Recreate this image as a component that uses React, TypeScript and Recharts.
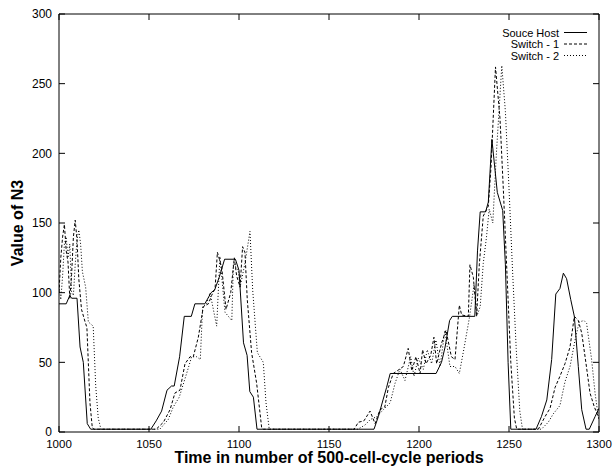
import { LineChart, Line, XAxis, YAxis } from "recharts";

// time (500-cell-cycle periods) and N3 values
const SOURCE_T = [
  1000, 1004, 1006, 1007, 1010, 1011.7, 1013.5, 1015.7, 1017.6, 1051, 1054, 1057, 1060, 1062.5,
  1064, 1067, 1069.6, 1073.5, 1075.5, 1081, 1084.5, 1086.5, 1089, 1092, 1098, 1100, 1102.5, 1104.5,
  1106, 1108, 1110, 1175, 1177.4, 1180, 1182, 1184, 1209.5, 1212.5, 1214.5, 1217, 1218.5, 1231,
  1232.5, 1234, 1237, 1238.5, 1240.5, 1243.5, 1246.5, 1248, 1249.5, 1251, 1265, 1268, 1271, 1273.7,
  1276, 1278.3, 1280.2, 1282, 1284.3, 1286.3, 1288.5, 1290.4, 1292.8, 1294.6, 1297.8, 1300,
];
const SOURCE_V = [
  92, 92, 98, 96, 96, 61, 50, 6, 2, 2, 8, 15, 30, 33,
  33, 54, 83, 83, 92, 92, 100, 102, 111, 124, 124, 116, 64, 55,
  29, 25, 2, 2, 11, 23, 32, 42, 42, 50, 61, 80, 83, 83,
  130, 158, 158, 165, 210, 172, 159, 120, 50, 2, 2, 11, 23, 52,
  99, 103, 114, 110, 95, 83, 47, 16, 2, 2, 11, 17,
];

const SWITCH1_T = [
  1000, 1001, 1002, 1003, 1004, 1005, 1006, 1007, 1008, 1009, 1010, 1011, 1012.5, 1014.5, 1015.5,
  1017.2, 1018.5, 1019.5, 1054, 1058, 1061.7, 1064.4, 1067.2, 1070, 1072.8, 1074.6, 1077.4, 1080.2,
  1083, 1084.8, 1086.7, 1088, 1090.4, 1092.8, 1095.4, 1097.4, 1098.7, 1100.6, 1102, 1103.3, 1104.6,
  1107, 1109.8, 1112.6, 1113.5, 1164, 1166.3, 1169.4, 1172.8, 1175.6, 1178.3, 1181, 1183, 1185.7,
  1188, 1191.3, 1194, 1196, 1198.3, 1200.6, 1202, 1203.9, 1206.5, 1208.3, 1209.8, 1212.6, 1215,
  1218, 1220, 1222.4, 1223.7, 1227.4, 1228.3, 1230.2, 1232, 1233.5, 1235.7, 1238.5, 1240, 1242.5,
  1245, 1247, 1249, 1251, 1253, 1254.3, 1266.3, 1270, 1272.8, 1275.6, 1278.3, 1281.1, 1283.9,
  1286.3, 1288.5, 1290.4, 1292.8, 1295, 1297.4, 1299.6, 1300,
];
const SWITCH1_V = [
  100, 125, 140, 149, 130, 122, 96, 113, 140, 152, 138, 110, 88, 79, 75,
  21, 3, 2, 2, 7, 16, 28, 30, 49, 54, 54, 68, 90,
  92, 98, 103, 129, 118, 88, 100, 125, 112, 104, 133, 129, 95,
  57, 35, 3, 2, 2, 7, 8, 15, 6, 16, 18, 32, 42,
  44, 47, 60, 44, 54, 42, 59, 49, 55, 68, 49, 64, 73,
  54, 52, 91, 84, 83, 120, 111, 83, 120, 155, 162, 190, 262,
  225, 170, 110, 50, 10, 2, 2, 11, 17, 32, 40, 49, 61,
  83, 80, 71, 49, 28, 18, 11, 10,
];

const SWITCH2_T = [
  1000, 1001, 1002, 1003, 1004, 1005, 1006, 1007, 1008, 1009, 1010, 1011, 1012, 1013, 1014.8,
  1016.3, 1019, 1020.4, 1021.8, 1023.3, 1056, 1060.7, 1063.5, 1066.8, 1070.9, 1073.7, 1076.5,
  1078.5, 1079.8, 1082, 1083.9, 1087.6, 1089.4, 1092.2, 1096, 1096.9, 1099.6, 1100.6, 1103.3,
  1106.1, 1107.6, 1110.2, 1113.5, 1115, 1116.8, 1166, 1170, 1173, 1176.5, 1180.2, 1184, 1186.7,
  1189.4, 1192.2, 1195.4, 1197.2, 1199.6, 1202.4, 1204.6, 1207, 1209.4, 1211.7, 1214.4, 1217.2,
  1220, 1222.4, 1225, 1228, 1230.6, 1232.4, 1234, 1235.7, 1237.5, 1239, 1241, 1243, 1246, 1248,
  1250, 1252, 1254, 1256, 1257.5, 1268, 1271.8, 1274.6, 1278.3, 1281.1, 1283.9, 1286.7, 1289,
  1291.7, 1293.1, 1295.9, 1297.8, 1299.6, 1300,
];
const SWITCH2_V = [
  105, 95, 112, 135, 140, 125, 135, 100, 98, 120, 138, 145, 135, 115, 104,
  79, 76, 33, 10, 2, 2, 9, 18, 25, 42, 54, 54,
  52, 90, 92, 100, 76, 126, 86, 80, 121, 116, 104, 121,
  144, 102, 57, 50, 21, 2, 2, 5, 9, 11, 16, 21, 35,
  45, 37, 54, 40, 53, 45, 59, 49, 66, 47, 73, 47,
  47, 42, 60, 82, 106, 84, 90, 121, 140, 160, 150, 200, 263, 230,
  175, 115, 60, 15, 2, 2, 7, 13, 19, 36, 47, 66, 79,
  80, 78, 52, 28, 11, 9,
];

const X_TICKS = [1000, 1050, 1100, 1150, 1200, 1250, 1300];
const Y_TICKS = [0, 50, 100, 150, 200, 250, 300];

const SERIES_NAMES = ["Souce Host", "Switch - 1", "Switch - 2"];
const DASHES = ["", "3 2", "1 2"];

const toRows = (ts: number[], vs: number[]) => ts.map((t, i) => ({ t, v: vs[i] }));

const sourceData = toRows(SOURCE_T, SOURCE_V);
const switch1Data = toRows(SWITCH1_T, SWITCH1_V);
const switch2Data = toRows(SWITCH2_T, SWITCH2_V);

const blank = () => "";

const App = () => {
  return (
    <div
      style={{
        position: "absolute",
        left: 0,
        top: 0,
        width: 613,
        height: 473,
        background: "#fff",
        fontFamily: "'Liberation Sans', Arial, sans-serif",
      }}
    >
      <LineChart width={613} height={473} margin={{ top: 4, right: 4, bottom: 11, left: 14 }}>
        <XAxis
          dataKey="t"
          type="number"
          domain={[1000, 1300]}
          ticks={X_TICKS}
          allowDataOverflow
          height={30}
          tickSize={-6}
          tickMargin={14}
          tick={{ fontSize: 11.5, fill: "#000" }}
          axisLine={{ stroke: "#000" }}
          tickLine={{ stroke: "#000" }}
          label={{
            value: "Time in number of 500-cell-cycle periods",
            position: "insideBottom",
            offset: -1,
            style: { fontSize: 16, fontWeight: "bold", fill: "#000" },
          }}
        />
        <XAxis
          xAxisId="top"
          orientation="top"
          dataKey="t"
          type="number"
          domain={[1000, 1300]}
          ticks={X_TICKS}
          allowDataOverflow
          height={10}
          tickSize={-6}
          tickFormatter={blank}
          axisLine={{ stroke: "#000" }}
          tickLine={{ stroke: "#000" }}
        />
        <YAxis
          type="number"
          domain={[0, 300]}
          ticks={Y_TICKS}
          allowDataOverflow
          width={45}
          tickSize={-6}
          tickMargin={13}
          tick={{ fontSize: 12, fill: "#000" }}
          axisLine={{ stroke: "#000" }}
          tickLine={{ stroke: "#000" }}
          label={{
            value: "Value of N3",
            angle: -90,
            position: "insideLeft",
            offset: 3,
            style: { fontSize: 16, fontWeight: "bold", fill: "#000", textAnchor: "middle" },
          }}
        />
        <YAxis
          yAxisId="right"
          orientation="right"
          type="number"
          domain={[0, 300]}
          ticks={Y_TICKS}
          allowDataOverflow
          width={10}
          tickSize={-6}
          tickFormatter={blank}
          axisLine={{ stroke: "#000" }}
          tickLine={{ stroke: "#000" }}
        />
        <Line
          data={sourceData}
          dataKey="v"
          type="linear"
          stroke="#000"
          strokeWidth={1}
          dot={false}
          isAnimationActive={false}
        />
        <Line
          data={switch1Data}
          dataKey="v"
          type="linear"
          stroke="#000"
          strokeWidth={1}
          strokeDasharray={DASHES[1]}
          dot={false}
          isAnimationActive={false}
        />
        <Line
          data={switch2Data}
          dataKey="v"
          type="linear"
          stroke="#000"
          strokeWidth={1}
          strokeDasharray={DASHES[2]}
          dot={false}
          isAnimationActive={false}
        />
      </LineChart>
      {/* gnuplot-style key, top right inside the frame */}
      <svg
        width={613}
        height={473}
        style={{ position: "absolute", left: 0, top: 0, pointerEvents: "none" }}
      >
        {SERIES_NAMES.map((name, i) => (
          <g key={name}>
            <text x={559} y={36.5 + i * 11.5} textAnchor="end" fontSize={11} fill="#000">
              {name}
            </text>
            <line
              x1={564}
              x2={587}
              y1={32.5 + i * 11.5}
              y2={32.5 + i * 11.5}
              stroke="#000"
              strokeWidth={1}
              strokeDasharray={DASHES[i] || undefined}
            />
          </g>
        ))}
      </svg>
    </div>
  );
};

export default App;
